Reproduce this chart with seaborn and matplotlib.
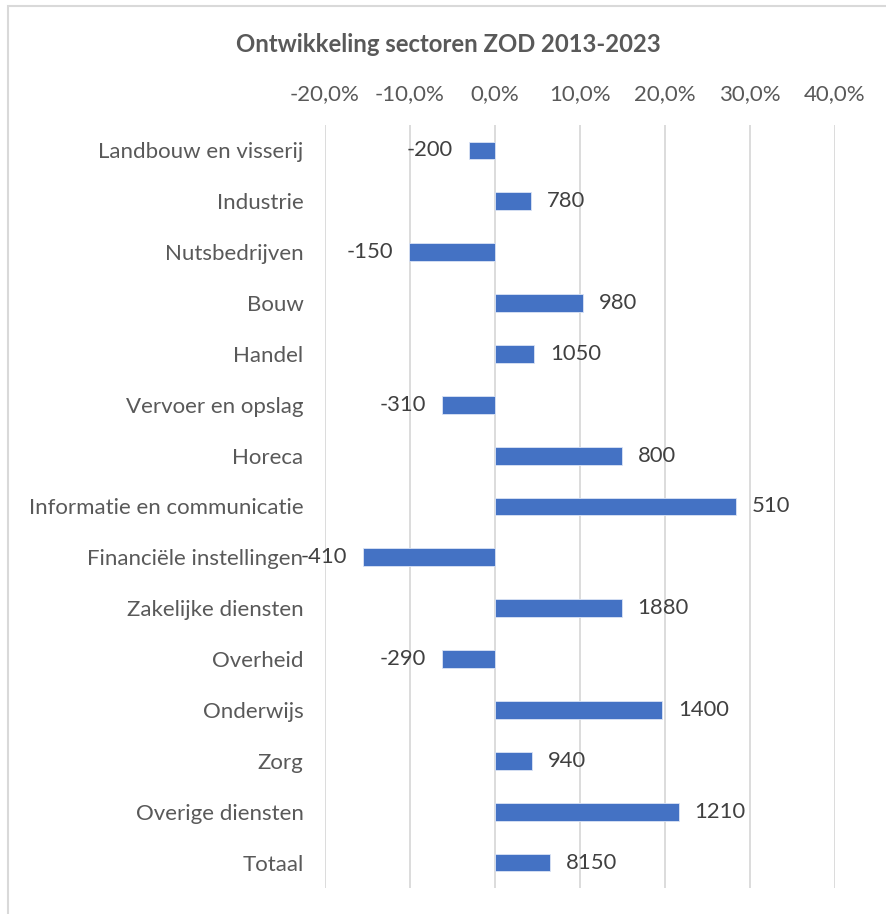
import matplotlib
matplotlib.use("Agg")
import matplotlib.pyplot as plt
from matplotlib.ticker import FuncFormatter
from matplotlib.patches import Rectangle
import seaborn as sns
import pandas as pd

sectors = ['Landbouw en visserij', 'Industrie', 'Nutsbedrijven', 'Bouw', 'Handel',
           'Vervoer en opslag', 'Horeca', 'Informatie en communicatie',
           'Financiële instellingen', 'Zakelijke diensten', 'Overheid', 'Onderwijs',
           'Zorg', 'Overige diensten', 'Totaal']
# relative growth 2013-2023
growth = [-0.031, 0.042, -0.101, 0.104, 0.046, -0.062, 0.149, 0.283,
          -0.155, 0.149, -0.062, 0.197, 0.043, 0.216, 0.065]
# absolute change in jobs (data labels)
change = [-200, 780, -150, 980, 1050, -310, 800, 510, -410, 1880, -290, 1400, 940, 1210, 8150]

df = pd.DataFrame({'sector': sectors, 'growth': growth})

sns.set_style('white')
plt.rcParams['font.family'] = ['Lato', 'DejaVu Sans']

fig = plt.figure(figsize=(8.86, 9.14), dpi=100)
ax = fig.add_axes([325 / 886, 1 - 888 / 914, 510 / 886, 763 / 914])

sns.barplot(data=df, x='growth', y='sector', orient='h', color='#4472C4',
            width=0.35, saturation=1, edgecolor='#dbe4f5', linewidth=0.6, ax=ax)

ax.set_xlim(-0.2, 0.4)
ax.set_ylim(14.5, -0.5)
ax.set_xticks([-0.2, -0.1, 0.0, 0.1, 0.2, 0.3, 0.4])
ax.xaxis.set_major_formatter(FuncFormatter(lambda v, p: f"{v * 100:.1f}%".replace('.', ',')))
ax.xaxis.tick_top()
ax.tick_params(axis='x', length=0, pad=15, labelsize=16, labelcolor='#595959')
ax.tick_params(axis='y', length=0, pad=15.5, labelsize=16, labelcolor='#595959')
ax.set_xlabel('')
ax.set_ylabel('')
ax.grid(axis='x', color='#d9d9d9', linewidth=1.3)
ax.set_axisbelow(True)
for s in ax.spines.values():
    s.set_visible(False)

ax.bar_label(ax.containers[0], labels=[str(c) for c in change], padding=11.5,
             fontsize=15.8, color='#404040')

fig.text(448 / 886, 1 - 45 / 914, 'Ontwikkeling sectoren ZOD 2013-2023',
         ha='center', va='center', fontsize=17.2, fontweight='bold', color='#595959')

# chart border (cropped at right and bottom)
fig.patches.append(Rectangle((7.5 / 886, -0.1), 1.2, 1.1 - 6.5 / 914, transform=fig.transFigure,
                             fill=False, edgecolor='#d9d9d9', linewidth=1.5))

fig.savefig('out.png', dpi=100)
